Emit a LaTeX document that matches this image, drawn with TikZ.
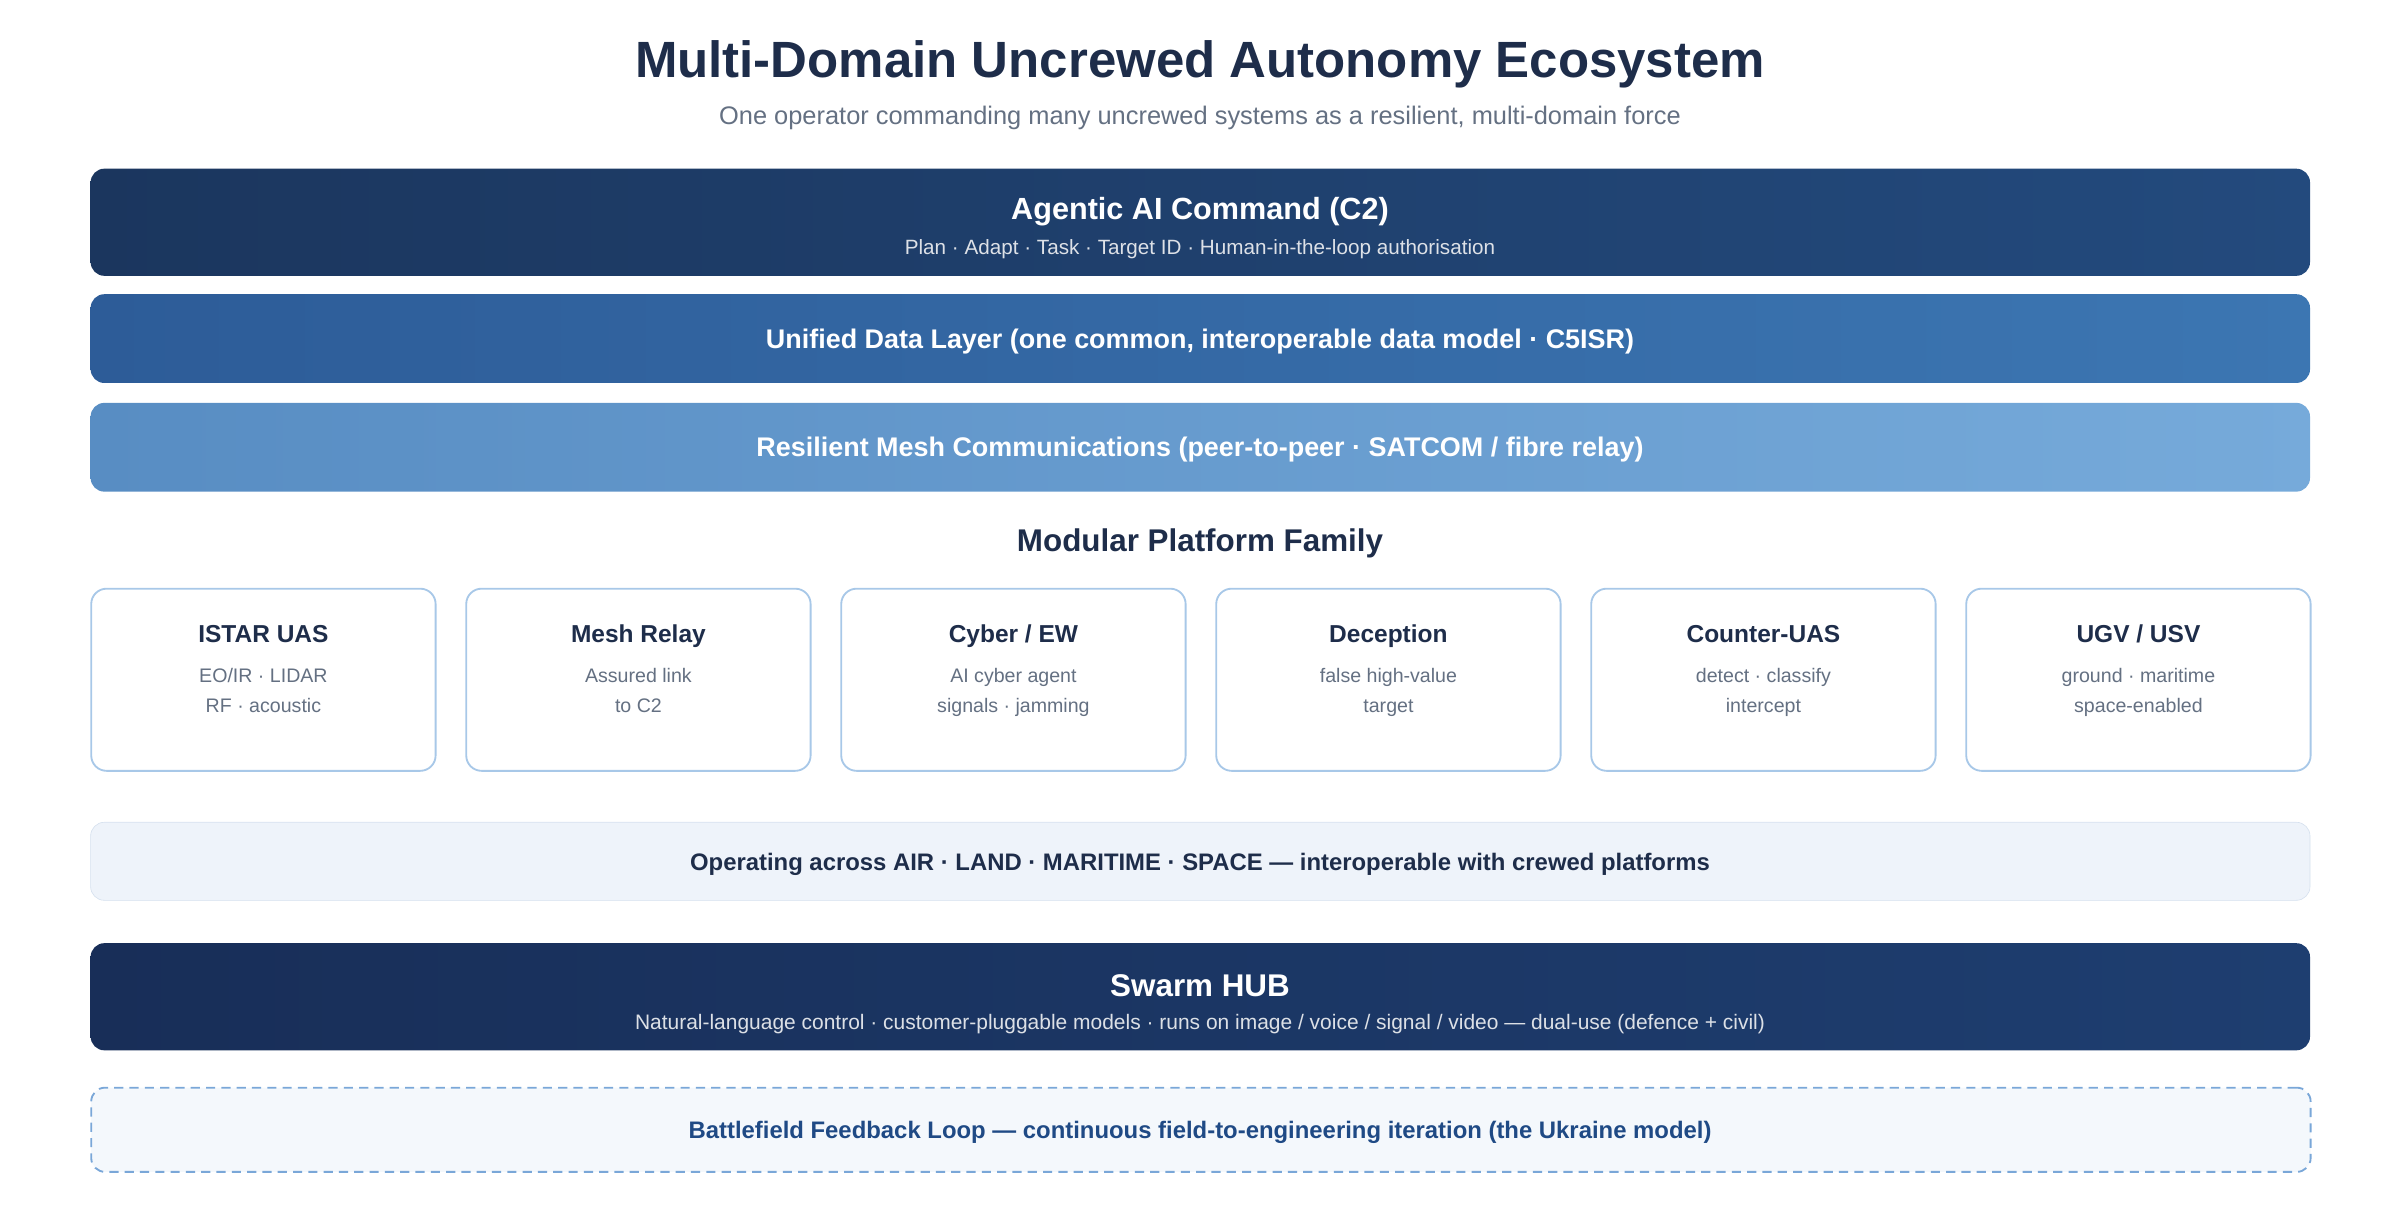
\documentclass[tikz,border=0pt]{standalone}
\usepackage{fontspec}
\setmainfont{Liberation Sans}
\definecolor{ecoink}{RGB}{30,45,74}
\definecolor{ecogray}{RGB}{100,112,130}
\definecolor{econavyA}{RGB}{27,54,94}
\definecolor{econavyB}{RGB}{35,74,125}
\definecolor{ecomidA}{RGB}{45,92,152}
\definecolor{ecomidB}{RGB}{60,118,178}
\definecolor{ecolightA}{RGB}{88,141,195}
\definecolor{ecolightB}{RGB}{118,170,218}
\definecolor{ecoedge}{RGB}{168,200,232}
\definecolor{ecoband}{RGB}{238,243,250}
\definecolor{ecobandedge}{RGB}{213,224,238}
\definecolor{ecohubA}{RGB}{24,46,88}
\definecolor{ecohubB}{RGB}{30,62,112}
\definecolor{ecoloop}{RGB}{122,167,216}
\definecolor{ecoloopfill}{RGB}{244,248,252}
\definecolor{ecoloopink}{RGB}{31,74,133}
\newcommand{\fsz}[1]{\fontsize{#1}{#1}\selectfont}
\begin{document}
\begin{tikzpicture}[x=1pt,y=-1pt,
  layer/.style={rounded corners=9pt, minimum width=1450pt, anchor=north west, inner sep=0pt},
  card/.style={draw=ecoedge, line width=1.2pt, fill=white, rounded corners=10pt,
    minimum width=225pt, minimum height=119pt, anchor=north west},
  head/.style={font=\bfseries\fsz{16}, text=ecoink, text height=0.72em, text depth=0.2em},
  line/.style={font=\fsz{12.8}, text=ecogray, text height=0.72em, text depth=0.2em}]
\useasboundingbox (0,0) rectangle (1568,804);

% Title
\node[font=\bfseries\fsz{33.3}, text=ecoink] (title) at (784,42) {Multi-Domain Uncrewed Autonomy Ecosystem};
\node[font=\fsz{16.6}, text=ecogray] (subtitle) at (784,77) {One operator commanding many uncrewed systems as a resilient, multi-domain force};

% Command layers
\node[layer, minimum height=70pt, left color=econavyA, right color=econavyB] (cmd) at (59,110) {};
\node[font=\bfseries\fsz{20}, text=white] (cmdt) at (784,138) {Agentic AI Command (C2)};
\node[font=\fsz{13.5}, text=white!85!econavyA] (cmds) at (784,163) {Plan · Adapt · Task · Target ID · Human-in-the-loop authorisation};

\node[layer, minimum height=58pt, left color=ecomidA, right color=ecomidB] (data) at (59,192) {};
\node[font=\bfseries\fsz{17.6}, text=white] (datat) at (784,223) {Unified Data Layer (one common, interoperable data model · C5ISR)};

\node[layer, minimum height=58pt, left color=ecolightA, right color=ecolightB] (mesh) at (59,263) {};
\node[font=\bfseries\fsz{17.6}, text=white] (mesht) at (784,294) {Resilient Mesh Communications (peer-to-peer · SATCOM / fibre relay)};

% Platforms
\node[font=\bfseries\fsz{20.5}, text=ecoink] (family) at (784,355) {Modular Platform Family};
\foreach \i/\t/\a/\b in {0/{ISTAR UAS}/{EO/IR · LIDAR}/{RF · acoustic},
  1/{Mesh Relay}/{Assured link}/{to C2},
  2/{Cyber / EW}/{AI cyber agent}/{signals · jamming},
  3/{Deception}/{false high-value}/{target},
  4/{Counter-UAS}/{detect · classify}/{intercept},
  5/{UGV / USV}/{ground · maritime}/{space-enabled}} {
  \node[card] (p\i) at ({59+\i*245},384) {};
  \node[head] (p\i t) at ([yshift=-33pt]p\i.north) {\t};
  \node[line] (p\i a) at ([yshift=-59pt]p\i.north) {\a};
  \node[line] (p\i b) at ([yshift=-79pt]p\i.north) {\b};
}

% Domains
\node[layer, minimum height=51pt, fill=ecoband, draw=ecobandedge] (domain) at (59,537) {};
\node[font=\bfseries\fsz{15.6}, text=ecoink] (domaint) at (784,565) {Operating across AIR · LAND · MARITIME · SPACE — interoperable with crewed platforms};

% Swarm HUB
\node[layer, minimum height=70pt, left color=ecohubA, right color=ecohubB] (hub) at (59,616) {};
\node[font=\bfseries\fsz{20.5}, text=white] (hubt) at (784,644) {Swarm HUB};
\node[font=\fsz{13.7}, text=white!85!ecohubA] (hubs) at (784,669) {Natural-language control · customer-pluggable models · runs on image / voice / signal / video — dual-use (defence + civil)};

% Feedback
\node[layer, minimum height=55pt, fill=ecoloopfill, draw=ecoloop, line width=1.2pt, dash pattern=on 6pt off 4pt] (loop) at (59,710) {};
\node[font=\bfseries\fsz{15.6}, text=ecoloopink] (loopt) at (784,740) {Battlefield Feedback Loop — continuous field-to-engineering iteration (the Ukraine model)};
\end{tikzpicture}
\end{document}
